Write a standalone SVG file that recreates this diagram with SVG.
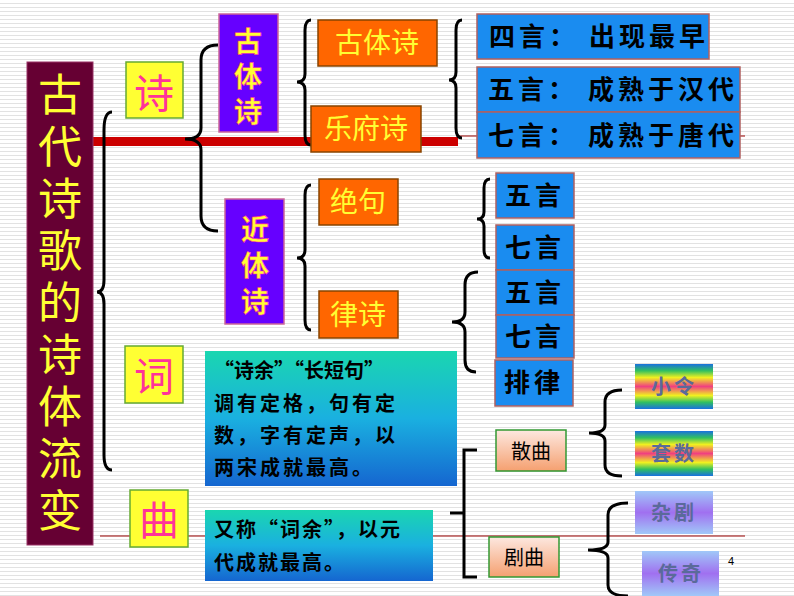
<svg xmlns="http://www.w3.org/2000/svg" width="794" height="596" viewBox="0 0 794 596">
<defs>
<pattern id="stripes" width="4" height="4" patternUnits="userSpaceOnUse"><rect width="4" height="4" fill="#fff"/><rect y="3" width="4" height="1" fill="#e2e2e2"/></pattern>
<linearGradient id="teal" x1="0" y1="0" x2="0" y2="1"><stop offset="0" stop-color="#1ad6b0"/><stop offset="0.5" stop-color="#1ab0e0"/><stop offset="1" stop-color="#1566d0"/></linearGradient>
<linearGradient id="peach" x1="0" y1="0" x2="0" y2="1"><stop offset="0" stop-color="#fde8e0"/><stop offset="1" stop-color="#f5a070"/></linearGradient>
<linearGradient id="rainbow" x1="0" y1="0" x2="0" y2="1"><stop offset="0" stop-color="#1a70e0"/><stop offset="0.15" stop-color="#30c060"/><stop offset="0.3" stop-color="#f0f020"/><stop offset="0.5" stop-color="#f04080"/><stop offset="0.7" stop-color="#f0f020"/><stop offset="0.85" stop-color="#30c060"/><stop offset="1" stop-color="#1a70e0"/></linearGradient>
<linearGradient id="lav" x1="0" y1="0" x2="0" y2="1"><stop offset="0" stop-color="#a0c8f8"/><stop offset="0.5" stop-color="#a070f0"/><stop offset="1" stop-color="#a0c8f8"/></linearGradient>
</defs>
<style>
.cjk{font-family:"Noto Sans CJK SC","Noto Sans",sans-serif}
.br{fill:none;stroke:#000;stroke-width:3}
.yel{fill:#ffff33;stroke:#66aa33;stroke-width:1.5}
.pink{fill:#ff3399;font-size:40px}
.pur{fill:#6600ff;stroke:#cc6699;stroke-width:1.5}
.vt{fill:#ffff33;font-size:28px;font-weight:bold;stroke:#ff3399;stroke-width:0.6}
.ora{fill:#ff6600;stroke:#884400;stroke-width:1.5}
.ot{fill:#ffff33;font-size:28px}
.blu{fill:#1a8cf0;stroke:#b06060;stroke-width:1.5}
.bt{fill:#000;font-size:26px;font-weight:bold}
.dt{fill:#000;font-size:20px;font-weight:bold}
.gb{stroke:#339933;stroke-width:1.5}
.tt{fill:#ffff33;font-size:44px}
</style>
<rect width="794" height="596" fill="url(#stripes)"/>
<g id="lines">
<rect x="93" y="137" width="365" height="9" fill="#cc0000"/>
<line x1="458" y1="136" x2="745" y2="136" stroke="#990000" stroke-width="1"/>
<line x1="100" y1="536" x2="745" y2="536" stroke="#990000" stroke-width="1"/>
</g>
<g id="title"><rect x="27" y="62" width="66" height="483" fill="#660033" stroke="#993366"/>
<text class="cjk tt" text-anchor="middle"><tspan x="60" y="111">古</tspan><tspan x="60" y="163">代</tspan><tspan x="60" y="215">诗</tspan><tspan x="60" y="267">歌</tspan><tspan x="60" y="319">的</tspan><tspan x="60" y="371">诗</tspan><tspan x="60" y="423">体</tspan><tspan x="60" y="475">流</tspan><tspan x="60" y="527">变</tspan></text></g>
<g id="connectors">
<path class="br" d="M112,112 Q104,112 104,130 L104,280 Q104,292 97,292 Q104,292 104,304 L104,455 Q104,470 112,470"/>
<path class="br" d="M218,45 Q201,45 201,60 L201,128 Q201,139 185,139 Q201,139 201,150 L201,216 Q201,231 218,231"/>
<path class="br" d="M311,20 Q305,20 305,30 L305,74 Q305,82 297,82 Q305,82 305,90 L305,135 Q305,145 311,145"/>
<path class="br" d="M311,185 Q305,185 305,195 L305,250 Q305,258 297,258 Q305,258 305,266 L305,320 Q305,330 311,330"/>
<path class="br" d="M462,20 Q456,20 456,30 L456,72 Q456,80 449,80 Q456,80 456,88 L456,128 Q456,138 462,138"/>
<path class="br" d="M490,179 Q484,179 484,188 L484,212 Q484,219 477,219 Q484,219 484,226 L484,250 Q484,258 490,258"/>
<path class="br" d="M478,272 Q465,272 465,285 L465,312 Q465,322 452,322 Q465,322 465,332 L465,360 Q465,372 476,372"/>
<path class="br" d="M477,450 L464,450 L464,577 L477,577 M450,513 L464,513"/>
<path class="br" d="M622,390 Q605,390 605,402 L605,425 Q605,433 589,433 Q605,433 605,441 L605,465 Q605,476 622,476"/>
<path class="br" d="M628,503 Q608,503 608,515 L608,542 Q608,550 588,550 Q608,550 608,558 L608,585 Q608,596 628,596"/>
</g>
<g id="shi"><rect class="yel" x="126" y="62" width="57" height="56"/><text class="cjk pink" x="154" y="108" text-anchor="middle">诗</text></g>
<g id="ci"><rect class="yel" x="125" y="346" width="58" height="57"/><text class="cjk pink" x="154" y="391" text-anchor="middle">词</text></g>
<g id="qu"><rect class="yel" x="130" y="490" width="58" height="57"/><text class="cjk pink" x="159" y="535" text-anchor="middle">曲</text></g>
<g id="guti"><rect class="pur" x="219" y="14" width="59" height="118"/><text class="cjk vt" text-anchor="middle"><tspan x="248" y="52">古</tspan><tspan x="248" y="87">体</tspan><tspan x="248" y="122">诗</tspan></text></g>
<g id="jinti"><rect class="pur" x="225" y="199" width="59" height="125"/><text class="cjk vt" text-anchor="middle"><tspan x="255" y="240">近</tspan><tspan x="255" y="276">体</tspan><tspan x="255" y="312">诗</tspan></text></g>
<g id="gutishi"><rect class="ora" x="318" y="20" width="119" height="46"/><text class="cjk ot" x="377" y="53" text-anchor="middle">古体诗</text></g>
<g id="yuefu"><rect class="ora" x="311" y="106" width="110" height="46"/><text class="cjk ot" x="366" y="139" text-anchor="middle">乐府诗</text></g>
<g id="jueju"><rect class="ora" x="319" y="179" width="79" height="46"/><text class="cjk ot" x="358" y="212" text-anchor="middle">绝句</text></g>
<g id="lvshi"><rect class="ora" x="319" y="291" width="79" height="47"/><text class="cjk ot" x="358" y="325" text-anchor="middle">律诗</text></g>
<g id="siyan"><rect class="blu" x="477" y="14" width="232" height="45"/><text class="cjk bt" x="489" y="46" font-size="22" letter-spacing="4">四言： 出现最早</text></g>
<g id="wuyan"><rect class="blu" x="477" y="67" width="263" height="45"/><text class="cjk bt" x="488" y="99" font-size="24" letter-spacing="4">五言： 成熟于汉代</text></g>
<g id="qiyan"><rect class="blu" x="477" y="112" width="263" height="46"/><text class="cjk bt" x="488" y="145" font-size="24" letter-spacing="4">七言： 成熟于唐代</text></g>
<g id="jw5"><rect class="blu" x="496" y="173" width="78" height="45"/><text class="cjk bt" x="535" y="205" font-size="22" text-anchor="middle" letter-spacing="4">五言</text></g>
<g id="jw7"><rect class="blu" x="496" y="225" width="78" height="45"/><text class="cjk bt" x="535" y="257" font-size="22" text-anchor="middle" letter-spacing="4">七言</text></g>
<g id="lw5"><rect class="blu" x="496" y="270" width="78" height="45"/><text class="cjk bt" x="535" y="302" font-size="22" text-anchor="middle" letter-spacing="4">五言</text></g>
<g id="lw7"><rect class="blu" x="496" y="315" width="78" height="43"/><text class="cjk bt" x="535" y="346" font-size="22" text-anchor="middle" letter-spacing="4">七言</text></g>
<g id="pailv"><rect class="blu" x="495" y="360" width="78" height="46"/><text class="cjk bt" x="534" y="392" font-size="22" text-anchor="middle" letter-spacing="4">排律</text></g>
<g id="cidesc"><rect x="205" y="351" width="252" height="135" fill="url(#teal)"/><text class="cjk dt"><tspan x="214" y="378">“诗余”“长短句”</tspan><tspan x="214" y="411" letter-spacing="3">调有定格，句有定</tspan><tspan x="214" y="443" letter-spacing="3">数，字有定声，以</tspan><tspan x="214" y="475" letter-spacing="3">两宋成就最高。</tspan></text></g>
<g id="qudesc"><rect x="205" y="510" width="228" height="71" fill="url(#teal)"/><text class="cjk dt"><tspan x="214" y="537" letter-spacing="2">又称“词余”，以元</tspan><tspan x="214" y="570" letter-spacing="2">代成就最高。</tspan></text></g>
<g id="sanqu"><rect class="gb" x="496" y="430" width="70" height="41" fill="url(#peach)"/><text class="cjk" x="531" y="459" font-size="20" text-anchor="middle" fill="#000">散曲</text></g>
<g id="juqu"><rect class="gb" x="489" y="537" width="70" height="40" fill="url(#peach)"/><text class="cjk" x="524" y="565" font-size="20" text-anchor="middle" fill="#000">剧曲</text></g>
<g id="xiaoling"><rect x="635" y="364" width="78" height="45" fill="url(#rainbow)"/><text class="cjk" x="674" y="394" font-size="20" font-weight="bold" text-anchor="middle" fill="#5a6a9a" letter-spacing="3">小令</text></g>
<g id="taoshu"><rect x="635" y="431" width="78" height="45" fill="url(#rainbow)"/><text class="cjk" x="674" y="461" font-size="20" font-weight="bold" text-anchor="middle" fill="#5a6a9a" letter-spacing="3">套数</text></g>
<g id="zaju"><rect x="635" y="491" width="78" height="43" fill="url(#lav)"/><text class="cjk" x="674" y="520" font-size="20" font-weight="bold" text-anchor="middle" fill="#5a6a9a" letter-spacing="3">杂剧</text></g>
<g id="chuanqi"><rect x="642" y="551" width="77" height="45" fill="url(#lav)"/><text class="cjk" x="681" y="581" font-size="20" font-weight="bold" text-anchor="middle" fill="#5a6a9a" letter-spacing="3">传奇</text></g>
<text x="728" y="565" font-family="Liberation Sans,sans-serif" font-size="11" fill="#000">4</text>
</svg>
